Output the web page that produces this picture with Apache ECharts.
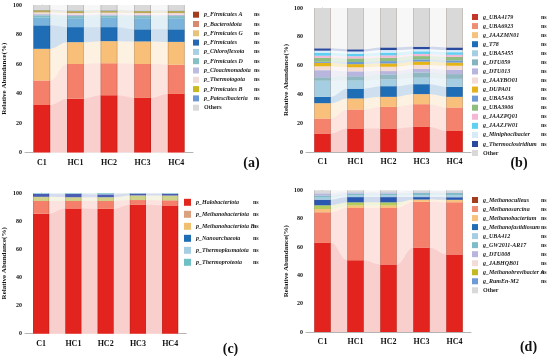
<!DOCTYPE html>
<html><head><meta charset="utf-8">
<script src="https://cdn.jsdelivr.net/npm/echarts@6/dist/echarts.min.js"></script>
<style>html,body{margin:0;padding:0;background:#fff}#c{width:550px;height:356px}</style>
</head><body><div id="c"></div>
<script>
const categories = ['C1', 'HC1', 'HC2', 'HC3', 'HC4'];

// ---- Panel (a) phylum-level bacteria ----
const aNames = ['p_Firmicutes A','p_Bacteroidota','p_Firmicutes G','p_Firmicutes','p_Chloroflexota','p_Firmicutes D','p_Cloacimonadota','p_Thermotogota','p_Firmicutes B','p_Patescibacteria','Others'];
const a_FirmicutesA   = [32.2, 36.5, 38.8, 37.0, 39.7];
const a_Bacteroidota  = [16.6, 23.5, 21.7, 23.0, 19.8];
const a_FirmicutesG   = [21.5, 14.8, 15.0, 15.3, 15.5];
const a_Firmicutes    = [15.9, 10.2, 9.5, 8.2, 8.5];
const a_Chloroflexota = [5.3, 6.0, 6.3, 7.5, 7.5];
const a_FirmicutesD   = [1.5, 1.5, 1.5, 1.5, 1.5];
const a_Cloacimonadota= [0.8, 0.8, 0.8, 0.8, 0.8];
const a_Thermotogota  = [1.2, 1.2, 1.2, 1.2, 1.2];
const a_FirmicutesB   = [1.5, 1.4, 1.4, 1.4, 1.5];
const a_Patescibacteria=[0.3, 0.4, 0.3, 0.3, 0.3];
const a_Others        = [3.2, 3.7, 3.5, 3.8, 3.7];

// ---- Panel (b) genus-level bacteria ----
const bNames = ['g_UBA4179','g_UBA6923','g_JAAZMN01','g_T78','g_UBA5455','g_DTU059','g_DTU013','g_JAAYBO01','g_DUPA01','g_UBA5436','g_UBA3906','g_JAAZPQ01','g_JAAZJW01','g_Miniphocibacter','g_Thermoclostridium','Other'];
const b_UBA4179  = [12.8, 16.3, 16.3, 17.4, 14.6];
const b_UBA6923  = [10.4, 13.2, 15.0, 15.8, 16.3];
const b_JAAZMN01 = [10.7, 7.7, 7.0, 7.0, 7.4];
const b_T78      = [4.4, 6.8, 7.4, 6.9, 6.9];
const b_UBA5455  = [11.2, 5.6, 4.7, 4.5, 5.6];
const b_DTU059   = [2.4, 3.0, 3.5, 3.6, 3.3];
const b_DTU013   = [4.9, 3.4, 2.3, 2.5, 3.0];
const b_JAAYBO01 = [2.7, 2.8, 3.0, 2.8, 2.8];
const b_DUPA01   = [2.4, 2.2, 2.3, 2.3, 2.2];
const b_UBA5436  = [0.8, 1.5, 1.6, 1.5, 1.5];
const b_UBA3906  = [2.7, 2.5, 2.4, 2.3, 2.4];
const b_JAAZPQ01 = [1.5, 1.5, 1.6, 1.5, 1.5];
const b_JAAZJW01 = [2.0, 1.8, 1.9, 1.8, 1.8];
const b_Miniphocibacter   = [1.5, 1.5, 1.8, 1.5, 1.5];
const b_Thermoclostridium = [1.6, 1.5, 1.8, 1.7, 1.8];
const b_Other    = [28.0, 28.7, 27.4, 26.9, 27.4];

// ---- Panel (c) phylum-level archaea ----
const cNames = ['p_Halobacteriota','p_Methanobacteriota','p_Methanobacteriota B','p_Nanoarchaeota','p_Thermoplasmatota','p_Thermoproteota'];
const c_Halobacteriota    = [85.3, 88.9, 88.7, 91.6, 91.1];
const c_Methanobacteriota = [9.0, 5.4, 5.6, 3.4, 3.7];
const c_MethanobacteriotaB= [3.0, 2.7, 2.7, 3.3, 3.4];
const c_Nanoarchaeota     = [2.0, 2.3, 2.0, 1.2, 1.2];
const c_Thermoplasmatota  = [0.4, 0.4, 0.6, 0.3, 0.4];
const c_Thermoproteota    = [0.3, 0.3, 0.4, 0.2, 0.2];

// ---- Panel (d) genus-level archaea (stack order) ----
const dNames = ['g_Methanoculleus','g_Methanosarcina','g_Methanobacterium','g_Methanobrevibacter A','g_Methanofastidiosum','g_UBA412','g_GW2011-AR17','g_DTU008','g_JABHQB01','g_RumEn-M2','Other'];
const d_Methanoculleus   = [62.9, 50.7, 47.7, 59.4, 54.7];
const d_Methanosarcina   = [21.6, 36.8, 39.8, 32.5, 36.8];
const d_Methanobacterium = [2.3, 1.8, 1.8, 1.4, 1.6];
const d_MethanobrevibacterA = [2.6, 2.2, 2.2, 0.2, 0.2];
const d_Methanofastidiosum  = [4.0, 3.7, 3.7, 1.7, 1.8];
const d_UBA412   = [1.5, 1.2, 1.2, 1.4, 1.5];
const d_GW2011   = [1.4, 1.2, 1.2, 1.6, 1.6];
const d_DTU008   = [1.2, 0.6, 0.6, 0.4, 0.4];
const d_JABHQB01 = [0.3, 0.3, 0.3, 0.3, 0.3];
const d_RumEnM2  = [0.2, 0.2, 0.2, 0.2, 0.2];
const d_Other    = [2.0, 1.3, 1.3, 0.9, 0.9];
// legend order of panel (d) (indices into dNames)
const dLegendOrder = [0, 1, 2, 4, 5, 6, 7, 8, 3, 9, 10];

const SERIF = '"Liberation Serif", "DejaVu Serif", serif';

const panels = [
  { names: aNames,
    values: [a_FirmicutesA, a_Bacteroidota, a_FirmicutesG, a_Firmicutes, a_Chloroflexota, a_FirmicutesD, a_Cloacimonadota, a_Thermotogota, a_FirmicutesB, a_Patescibacteria, a_Others],
    fills:  ['#e3231d','#f4806b','#f8bf78','#1f6db5','#7ab4dc','#7fbfc4','#b8b8e0','#f0dcd8','#b9a85a','#6b97d6','#d9d9d9'],
    legendColors: ['#a33d1e','#d9896d','#e6c27a','#2368b0','#a9cfe3','#84c0c6','#bcbce2','#f0dcd8','#c9b820','#6b97d6','#d9d9d9'],
    grid: {left: 23, top: 5, width: 170, height: 147.5},
    legend: {left: 193, top: 11.7, gap: 3.3, w: 50, icon: 6},
    nameGap: 17, label: {x: 251.5, y: 163, text: '(a)'} },
  { names: bNames,
    values: [b_UBA4179, b_UBA6923, b_JAAZMN01, b_T78, b_UBA5455, b_DTU059, b_DTU013, b_JAAYBO01, b_DUPA01, b_UBA5436, b_UBA3906, b_JAAZPQ01, b_JAAZJW01, b_Miniphocibacter, b_Thermoclostridium, b_Other],
    fills:  ['#e3231d','#f4826c','#f8c07a','#1f6db5','#a6cee3','#8fb8c2','#b8b6de','#f3dcd5','#e6b415','#6e9bd6','#8fbc7f','#f5b8d4','#5fd0f2','#d6eaf8','#2a4a9e','#d9d9d9'],
    legendColors: ['#c4362a','#ef8d75','#f5c37f','#1f6db5','#a6cee3','#86b5c0','#b8b6de','#f3dcd5','#e3b31c','#6e9bd6','#8fbc7f','#f5b8d4','#5fd0f2','#d6eaf8','#2a4a9e','#d9d9d9'],
    grid: {left: 306, top: 8, width: 165, height: 144},
    legend: {left: 472, top: 14, gap: 3.07, w: 58, icon: 6},
    nameGap: 16, label: {x: 519, y: 163, text: '(b)'} },
  { names: cNames,
    values: [c_Halobacteriota, c_Methanobacteriota, c_MethanobacteriotaB, c_Nanoarchaeota, c_Thermoplasmatota, c_Thermoproteota],
    fills:  ['#e3231d','#f4806c','#cfd28a','#4a5cb4','#a6cee3','#6fc0c4'],
    legendColors: ['#e0281f','#dba07e','#f0c070','#1f6db5','#a6cee3','#6fc0c4'],
    grid: {left: 23.75, top: 193, width: 162.5, height: 140.7},
    legend: {left: 184, top: 198.8, gap: 5, w: 57, icon: 7},
    nameGap: 17, label: {x: 230.5, y: 349.5, text: '(c)'} },
  { names: dNames,
    values: [d_Methanoculleus, d_Methanosarcina, d_Methanobacterium, d_MethanobrevibacterA, d_Methanofastidiosum, d_UBA412, d_GW2011, d_DTU008, d_JABHQB01, d_RumEnM2, d_Other],
    fills:  ['#e3231d','#f4806c','#f8c07a','#b4cd5a','#2a58b0','#a6cee3','#7fbcc8','#b8b6de','#f3dcd5','#6e9bd6','#d9d9d9'],
    legendColors: ['#a33d1e','#ef8d75','#f5c37f','#c3b922','#1f6db5','#a6cee3','#7fbcc8','#b8b6de','#f3dcd5','#6e9bd6','#d9d9d9'],
    legendOrder: dLegendOrder,
    grid: {left: 306, top: 190.3, width: 165, height: 141.7},
    legend: {left: 472, top: 197, gap: 3.03, w: 58, icon: 6},
    nameGap: 15, label: {x: 528.5, y: 347, text: '(d)'} }
];

function rgb(h) { h = h.replace('#',''); return [0,2,4].map(i => parseInt(h.substr(i,2),16)); }
function mix(h, t, base) { const c = rgb(h); return 'rgb(' + c.map((v,i) => Math.round(v*t + base[i]*(1-t))).join(',') + ')'; }
const tint = h => mix(h, 0.22, [255,255,255]);
const shade = h => mix(h, 0.72, [60,20,0]);

const option = {animation: false, grid: [], xAxis: [], yAxis: [], legend: [], series: [], graphic: []};
const axisColor = '#b4b4b4';

panels.forEach((p, k) => {
  option.grid.push(Object.assign({}, p.grid));
  option.xAxis.push({type: 'category', gridIndex: k, data: categories,
    axisLine: {lineStyle: {color: axisColor}}, axisTick: {show: false},
    axisLabel: {fontFamily: SERIF, fontWeight: 'bold', fontSize: 8, color: '#111', margin: 6}});
  option.xAxis.push({type: 'value', gridIndex: k, min: -0.5, max: 4.5, show: false});
  option.yAxis.push({type: 'value', gridIndex: k, min: 0, max: 100, interval: 20,
    name: 'Relative Abundance(%)', nameLocation: 'middle', nameGap: p.nameGap,
    nameTextStyle: {fontFamily: SERIF, fontWeight: 'bold', fontSize: 7, color: '#111'},
    axisLine: {show: true, lineStyle: {color: axisColor}},
    axisTick: {show: true, length: 2, lineStyle: {color: axisColor}},
    axisLabel: {fontFamily: SERIF, fontWeight: 'bold', fontSize: 6, color: '#111', margin: 3},
    splitLine: {show: false}});

  const n = p.values.length;
  const cum = [];
  let run = [0,0,0,0,0];
  p.values.forEach(v => { run = run.map((r,i) => r + v[i]); cum.push(run.slice()); });
  for (let j = n - 1; j >= 0; j--) {
    const pts = [];
    cum[j].forEach((c, i) => { pts.push([i - 0.25, c]); pts.push([i + 0.25, c]); });
    option.series.push({type: 'line', name: p.names[j] + ' band' + k, xAxisIndex: 2*k+1, yAxisIndex: k,
      data: pts, symbol: 'none', smooth: 0.35, lineStyle: {width: 0},
      areaStyle: {color: tint(p.fills[j]), opacity: 1}, z: 1, silent: true});
  }
  p.values.forEach((v, j) => {
    const f = p.fills[j], d = shade(f);
    option.series.push({type: 'bar', name: p.names[j], xAxisIndex: 2*k, yAxisIndex: k, stack: 's' + k,
      data: v, barWidth: '50%', z: 2,
      itemStyle: {color: {type: 'linear', x: 0, y: 0, x2: 1, y2: 0,
        colorStops: [{offset: 0, color: d}, {offset: 0.07, color: f}, {offset: 0.93, color: f}, {offset: 1, color: d}]}}});
  });

  const order = p.legendOrder || p.names.map((_, i) => i);
  const L = p.legend;
  option.legend.push({orient: 'vertical', left: L.left, top: L.top, padding: 0,
    itemWidth: L.icon, itemHeight: L.icon, itemGap: L.gap, icon: 'rect', selectedMode: false,
    data: order.map(i => ({name: p.names[i], itemStyle: {color: p.legendColors[i]}})),
    formatter: name => (name === 'Other' || name === 'Others') ? '{o|' + name + '}' : '{n|' + name + '}{s|ns}',
    textStyle: {rich: {
      n: {width: L.w, fontFamily: SERIF, fontStyle: 'italic', fontWeight: 'bold', fontSize: 6, lineHeight: 6, color: '#222'},
      s: {fontFamily: SERIF, fontWeight: 'bold', fontSize: 6, lineHeight: 6, color: '#222'},
      o: {fontFamily: SERIF, fontWeight: 'bold', fontSize: 6, lineHeight: 6, color: '#222'}}}});

  option.graphic.push({type: 'text', x: p.label.x, y: p.label.y,
    style: {text: p.label.text, font: 'bold 14px ' + SERIF, fill: '#111', align: 'center', verticalAlign: 'middle'}});
});

const chart = echarts.init(document.getElementById('c'), null, {renderer: 'canvas'});
chart.setOption(option);
</script>
</body></html>
